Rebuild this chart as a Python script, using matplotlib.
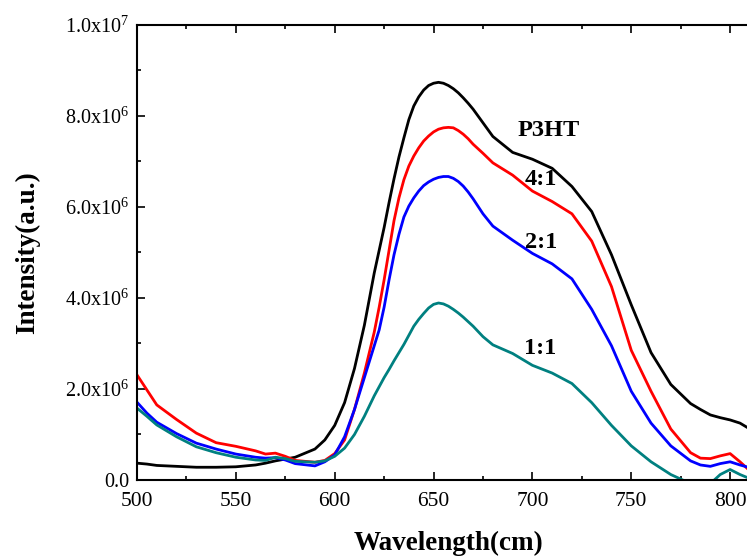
import matplotlib
matplotlib.use('Agg')
import matplotlib.pyplot as plt
from matplotlib.ticker import MultipleLocator, FuncFormatter

plt.rcParams['font.family'] = ['Liberation Serif', 'DejaVu Serif']
plt.rcParams['mathtext.default'] = 'regular'

# wavelength grid (nm) and intensities (x1e6 a.u.)
wavelength = [500, 505, 510, 520, 530, 540, 550, 560, 565, 570, 575, 580, 590, 595,
              600, 605, 610, 615,
              620, 622.5, 625, 627.5, 630, 632.5, 635, 637.5, 640, 642.5, 645, 647.5,
              650, 652.5, 655, 657.5, 660, 662.5, 665, 667.5, 670,
              675, 680, 690, 700, 710, 720, 730, 740, 750, 760, 770, 780, 785,
              790, 795, 800, 805, 810]

p3ht = [0.37, 0.35, 0.32, 0.30, 0.28, 0.28, 0.29, 0.33, 0.37, 0.42, 0.46, 0.50, 0.68, 0.88,
        1.20, 1.70, 2.45, 3.40,
        4.55, 5.05, 5.55, 6.10, 6.62, 7.10, 7.52, 7.92, 8.22, 8.42, 8.57, 8.67,
        8.72, 8.74, 8.72, 8.67, 8.60, 8.51, 8.40, 8.28, 8.15,
        7.85, 7.55, 7.20, 7.05, 6.85, 6.45, 5.90, 4.95, 3.85, 2.80, 2.10, 1.68, 1.55,
        1.43, 1.37, 1.32, 1.25, 1.12]

r41 = [2.31, 1.98, 1.65, 1.33, 1.03, 0.82, 0.74, 0.64, 0.57, 0.59, 0.52, 0.43, 0.39, 0.43,
       0.58, 0.88, 1.55, 2.35,
       3.25, 3.80, 4.40, 5.05, 5.70, 6.20, 6.60, 6.90, 7.12, 7.30, 7.45, 7.56,
       7.65, 7.71, 7.74, 7.75, 7.74, 7.68, 7.60, 7.50, 7.38,
       7.18, 6.97, 6.70, 6.35, 6.12, 5.85, 5.25, 4.25, 2.85, 1.95, 1.12, 0.60, 0.48,
       0.47, 0.53, 0.58, 0.40, 0.20]

r21 = [1.71, 1.47, 1.27, 1.02, 0.81, 0.68, 0.57, 0.50, 0.48, 0.49, 0.44, 0.36, 0.31, 0.40,
       0.55, 0.95, 1.55, 2.25,
       2.95, 3.30, 3.80, 4.40, 4.95, 5.40, 5.78, 6.02, 6.20, 6.35, 6.47, 6.55,
       6.61, 6.65, 6.67, 6.67, 6.63, 6.56, 6.46, 6.33, 6.18,
       5.85, 5.58, 5.27, 4.98, 4.75, 4.42, 3.75, 2.95, 1.95, 1.25, 0.75, 0.42, 0.33,
       0.30, 0.36, 0.40, 0.33, 0.27]

r11 = [1.58, 1.40, 1.21, 0.95, 0.73, 0.60, 0.50, 0.44, 0.43, 0.50, 0.47, 0.41, 0.39, 0.42,
       0.52, 0.70, 1.00, 1.40,
       1.85, 2.05, 2.25, 2.43, 2.62, 2.80, 2.98, 3.18, 3.38, 3.53, 3.66, 3.78,
       3.86, 3.89, 3.87, 3.82, 3.75, 3.67, 3.58, 3.48, 3.38,
       3.15, 2.97, 2.78, 2.52, 2.35, 2.12, 1.70, 1.20, 0.75, 0.40, 0.12, -0.08, -0.25,
       -0.08, 0.12, 0.23, 0.12, 0.03]

series = [(p3ht, 'black'), (r41, '#ff0000'), (r21, '#0000ff'), (r11, '#008080')]

labels = ['P3HT', '4:1', '2:1', '1:1']
label_x = [692.5, 696, 696, 695.5]
label_y = [7.69, 6.60, 5.23, 2.90]

fig = plt.figure(figsize=(7.47, 5.58), dpi=100)
ax = fig.add_axes([0.1834, 0.1398, 0.8337, 0.8154])

for vals, c in series:
    ax.plot(wavelength, [v * 1e6 for v in vals], color=c, lw=2.0,
            solid_joinstyle='round')

for t, x, y in zip(labels, label_x, label_y):
    ax.text(x, y * 1e6, t, fontsize=17.5, fontweight='bold', va='center', ha='left')

ax.set_xlim(500, 815)
ax.set_ylim(0, 1.0e7)
ax.xaxis.set_major_locator(MultipleLocator(50))
ax.xaxis.set_minor_locator(MultipleLocator(25))
ax.yaxis.set_major_locator(MultipleLocator(2e6))
ax.yaxis.set_minor_locator(MultipleLocator(1e6))


def fmt(v, pos):
    if v == 0:
        return '0.0'
    e = 6 if v < 1e7 else 7
    return f'{v / 10**e:.1f}x10$^{{{e}}}$'


ax.yaxis.set_major_formatter(FuncFormatter(fmt))
ax.tick_params(which='both', direction='in', top=True, right=False, width=1.2)
ax.tick_params(which='major', length=6)
ax.tick_params(which='minor', length=3)
ax.tick_params(axis='x', labelsize=15.5, pad=9)
ax.tick_params(axis='y', labelsize=14.5, pad=5.5)
for s in ax.spines.values():
    s.set_linewidth(1.5)

ax.set_xlabel('Wavelength(cm)', fontsize=19.5, fontweight='bold', labelpad=14)
ax.set_ylabel('Intensity(a.u.)', fontsize=19.5, fontweight='bold', labelpad=18)

fig.savefig('out.png', dpi=100)
